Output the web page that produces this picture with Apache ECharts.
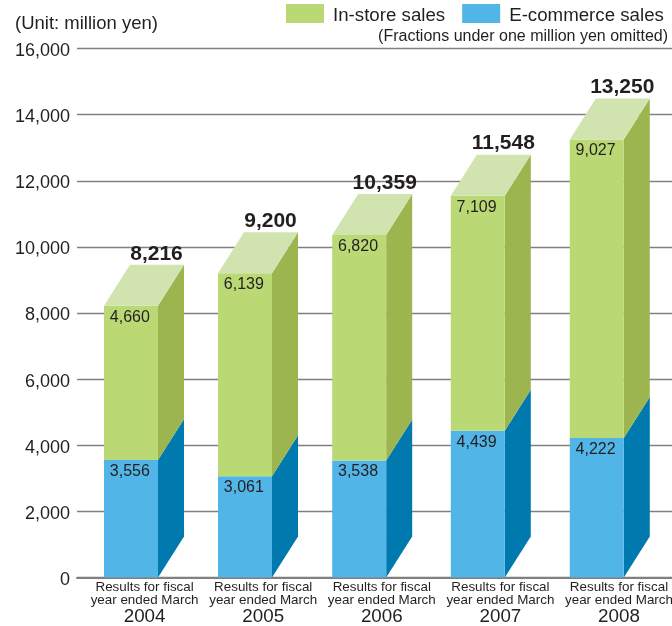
<!DOCTYPE html>
<html>
<head>
<meta charset="utf-8">
<style>html,body{margin:0;padding:0;background:#fff}#chart{width:672px;height:626px}</style>
<script src="https://cdn.jsdelivr.net/npm/echarts@6/dist/echarts.min.js"></script>
</head>
<body>
<div id="chart"></div>
<script>
// Sales by channel, fiscal years ended March 2004-2008 (million yen)
const years = ['2004', '2005', '2006', '2007', '2008'];
const ecommerce = [3556, 3061, 3538, 4439, 4222];
const inStore = [4660, 6139, 6820, 7109, 9027];
const totals = [8216, 9200, 10359, 11548, 13250];

const FONT = '"Liberation Sans", Arial, sans-serif';
const INK = '#231f20';

// Column drawing constants, in pixels
const BAR_W = 54, DEPTH_X = 26, DEPTH_Y = 41;
const BAR_LEFT = -40.6;
const BAR_NUDGE = [0, -4.6, -9, -9, -8.6];

// Draws one extruded block: front face, right wall and optional lid
function block(front, side, lid) {
  return function (params, api) {
    const i = api.value(0);
    const base = api.coord([i, api.value(1)]);
    const top = api.coord([i, api.value(2)]);
    const x0 = base[0] + BAR_LEFT + BAR_NUDGE[i];
    const x1 = x0 + BAR_W;
    const children = [
      { type: 'polygon', shape: { points: [[x1, base[1]], [x1 + DEPTH_X, base[1] - DEPTH_Y], [x1 + DEPTH_X, top[1] - DEPTH_Y], [x1, top[1]]] }, style: { fill: side } },
      { type: 'rect', shape: { x: x0, y: top[1], width: BAR_W, height: base[1] - top[1] }, style: { fill: front } }
    ];
    if (lid) {
      children.push({ type: 'polygon', shape: { points: [[x0, top[1]], [x0 + DEPTH_X, top[1] - DEPTH_Y], [x1 + DEPTH_X, top[1] - DEPTH_Y], [x1, top[1]]] }, style: { fill: lid } });
      children.push({ type: 'text', style: { x: x0 + 52.5, y: top[1] - DEPTH_Y - 11, text: api.value(4).toLocaleString('en-US'), font: 'bold 21px ' + FONT, fill: INK, align: 'center', verticalAlign: 'middle' } });
    }
    children.push({ type: 'text', style: { x: x0 + 5.8, y: top[1] + 11.5, text: api.value(3).toLocaleString('en-US'), font: '16px ' + FONT, fill: INK, align: 'left', verticalAlign: 'middle' } });
    return { type: 'group', children: children };
  };
}

const chart = echarts.init(document.getElementById('chart'), null, { renderer: 'canvas' });
chart.setOption({
  animation: false,
  backgroundColor: '#fff',
  grid: { left: 77, right: 0, top: 48.5, bottom: 48.5, outerBoundsMode: 'none' },
  legend: {
    left: 281, top: -1, itemWidth: 38, itemHeight: 19, itemGap: 17, icon: 'rect',
    selectedMode: false,
    formatter: function (name) { return '{t|' + name + '}'; },
    textStyle: {
      rich: { t: { fontFamily: FONT, fontSize: 18.7, color: INK, padding: [5, 0, 0, 4] } }
    },
    data: ['In-store sales', 'E-commerce sales']
  },
  graphic: [
    { type: 'text', left: 15, top: 14, style: { text: '(Unit: million yen)', font: '18.5px ' + FONT, fill: INK } },
    { type: 'text', right: 4, top: 29, style: { text: '(Fractions under one million yen omitted)', font: '16px ' + FONT, fill: INK } }
  ],
  xAxis: {
    type: 'value', min: -0.57, max: 4.447,
    splitLine: { show: false },
    axisTick: { show: false },
    axisLine: { show: true, onZero: false, lineStyle: { color: '#808080', width: 2 } },
    axisLabel: {
      customValues: [0, 1, 2, 3, 4],
      margin: 3,
      hideOverlap: false,
      formatter: function (v) { return '{a|Results for fiscal}\n{a|year ended March}\n{b|' + years[v] + '}'; },
      rich: {
        a: { fontFamily: FONT, fontSize: 13.4, lineHeight: 13, color: INK, align: 'center' },
        b: { fontFamily: FONT, fontSize: 18.8, lineHeight: 21, color: INK, align: 'center' }
      }
    }
  },
  yAxis: {
    type: 'value', min: 0, max: 16000, interval: 2000,
    axisLine: { show: false },
    axisTick: { show: false },
    splitLine: { lineStyle: { color: '#808080', width: 1.3 } },
    axisLabel: {
      margin: 7,
      formatter: function (v) { return '{v|' + v.toLocaleString('en-US') + '}'; },
      rich: { v: { fontFamily: FONT, fontSize: 18, color: INK, padding: [5, 0, 0, 0] } }
    }
  },
  series: [
    {
      name: 'E-commerce sales', type: 'custom', clip: false, silent: true,
      itemStyle: { color: '#52b5e8' },
      renderItem: block('#52b5e8', '#0079af', null),
      encode: { x: 0, y: 2 },
      data: ecommerce.map(function (v, i) { return [i, 0, v, v]; })
    },
    {
      name: 'In-store sales', type: 'custom', clip: false, silent: true,
      itemStyle: { color: '#bad975' },
      renderItem: block('#bad975', '#9db54f', '#d1e4af'),
      encode: { x: 0, y: 2 },
      data: inStore.map(function (v, i) { return [i, ecommerce[i], totals[i], v, totals[i]]; })
    }
  ]
});
</script>
</body>
</html>
